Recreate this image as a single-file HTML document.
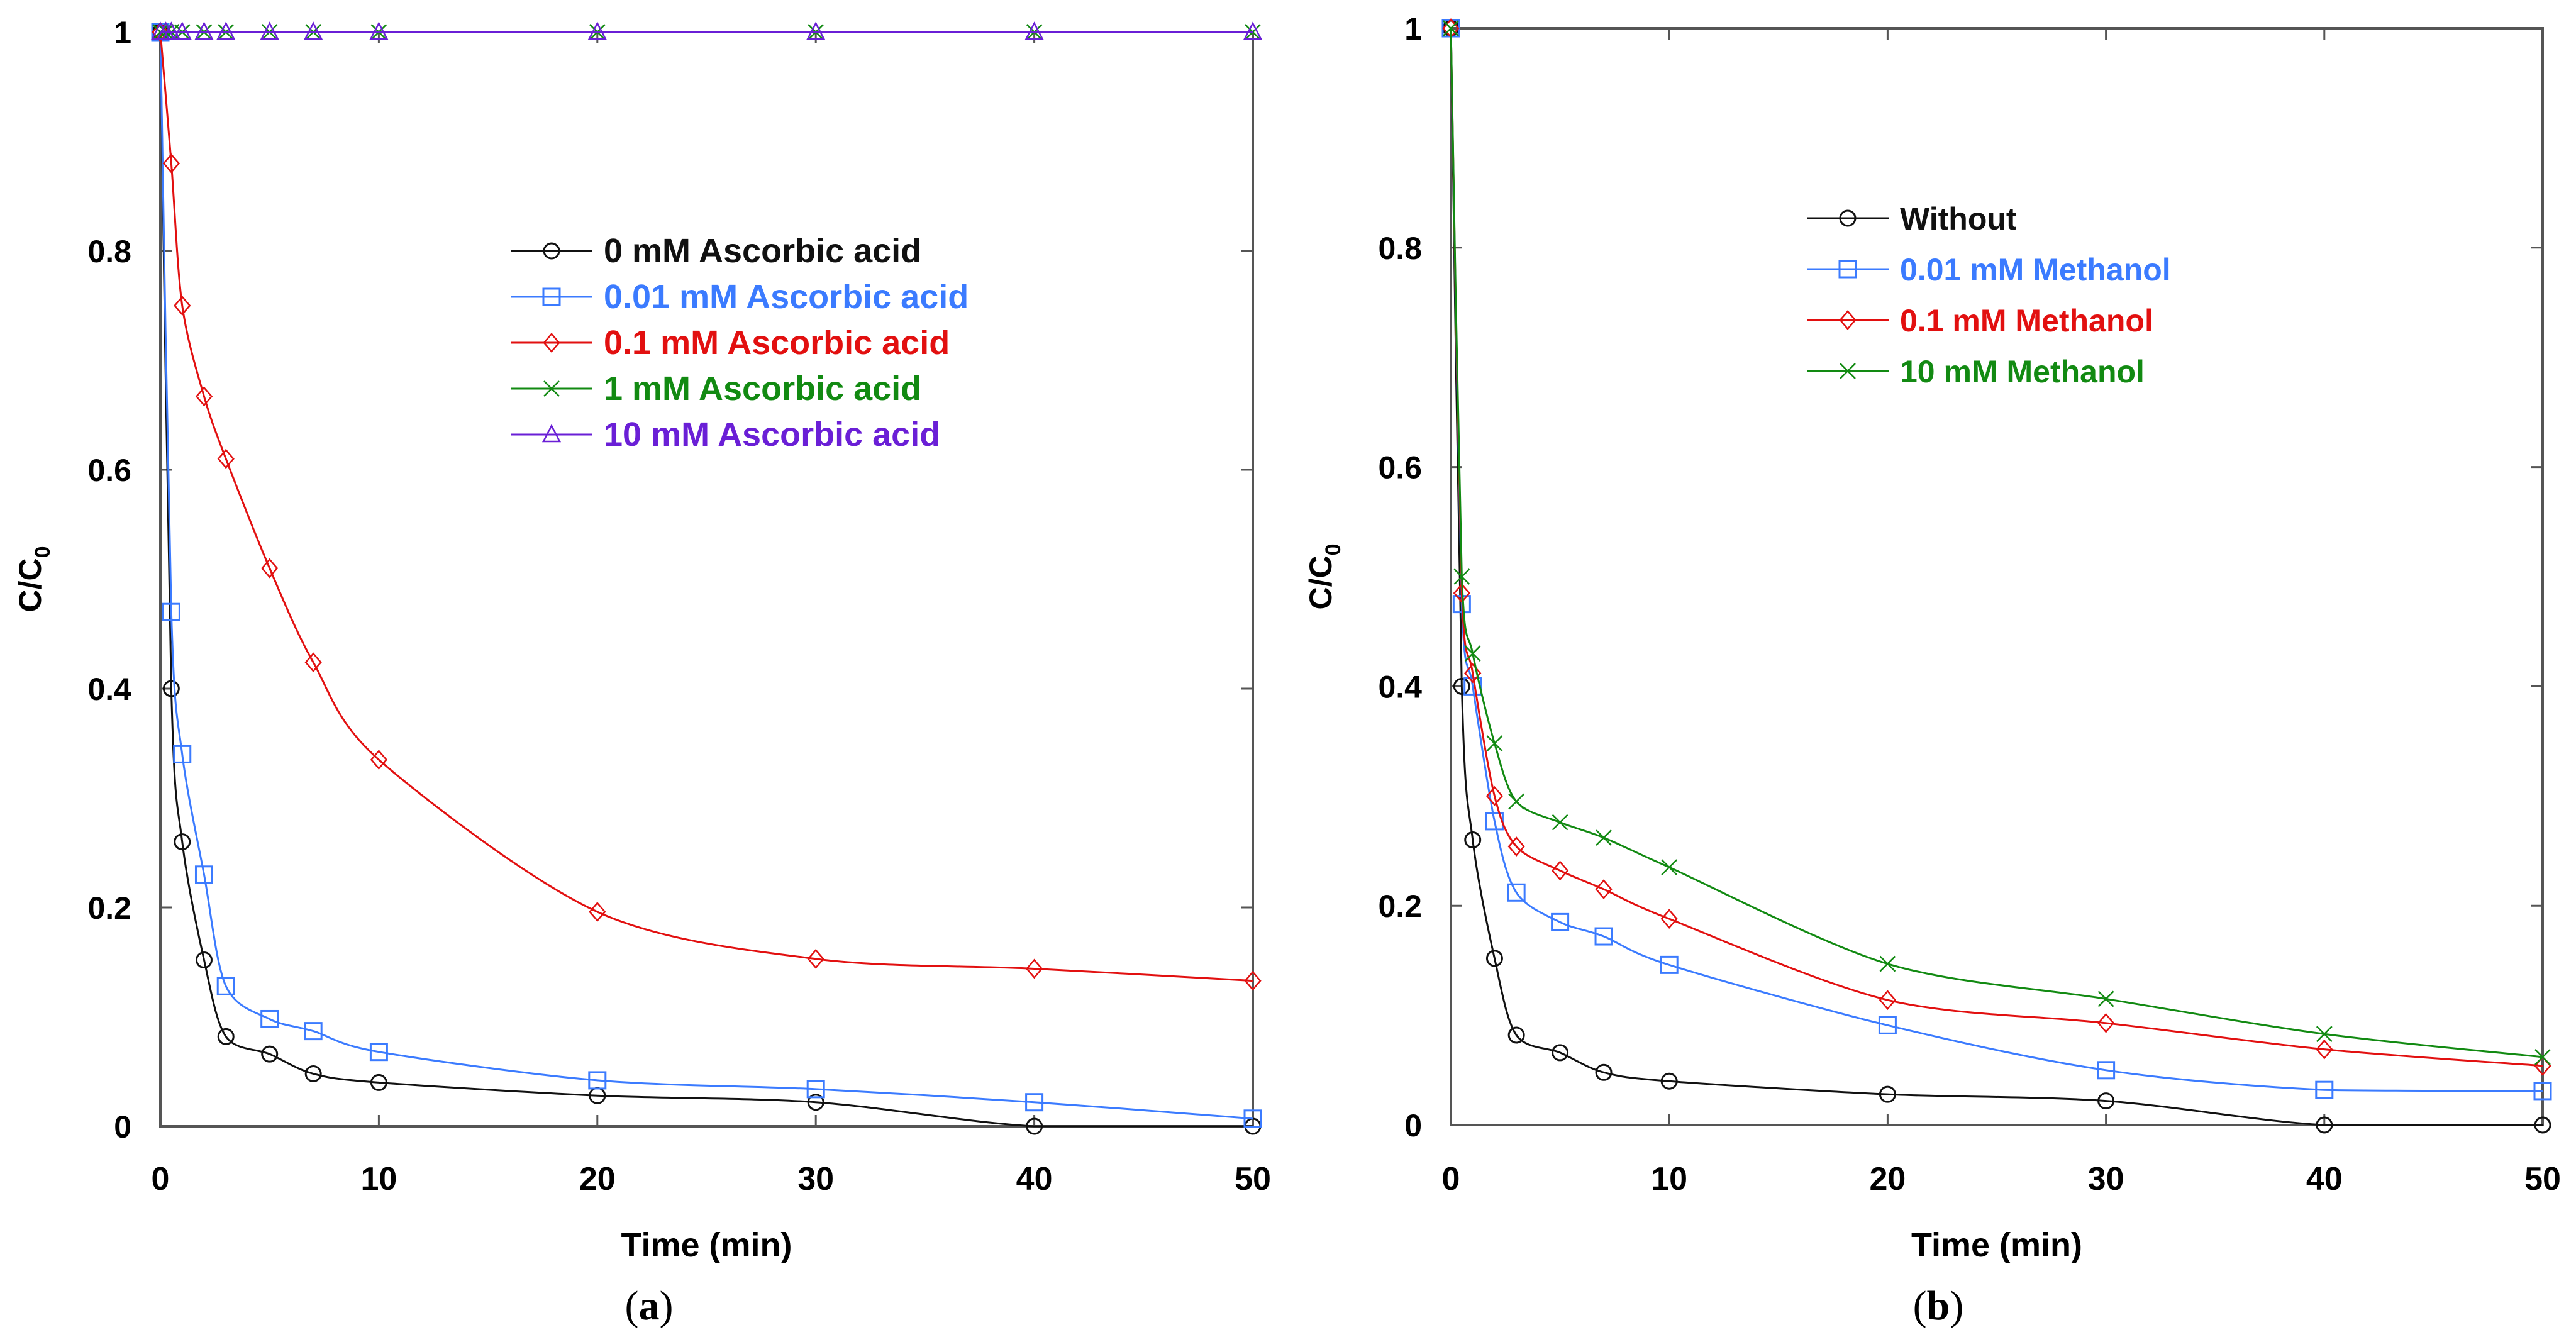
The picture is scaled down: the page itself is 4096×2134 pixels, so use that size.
<!DOCTYPE html>
<html><head><meta charset="utf-8"><style>
html,body{margin:0;padding:0;background:#fff;}
svg{display:block;}
text{font-family:"Liberation Sans",Arial,sans-serif;font-weight:bold;}
</style></head><body>
<svg id="fig" width="4096" height="2134" viewBox="0 0 4096 2134" xmlns="http://www.w3.org/2000/svg"></svg>
<script>
// ---- shared data ----
const xTicks=[0,10,20,30,40,50];
const yTicks=[0,0.2,0.4,0.6,0.8,1];
const yTickLabels=["0","0.2","0.4","0.6","0.8","1"];
const timesMain=[0,0.5,1,2,3,5,7,10,20,30,40,50];
const timesFlat=[0,0.25,0.5,1,2,3,5,7,10,20,30,40,50];
// panel a
const aBlack=[1,0.4,0.26,0.152,0.082,0.066,0.048,0.04,0.028,0.022,0,0];
const aBlue=[1,0.47,0.34,0.23,0.128,0.098,0.087,0.068,0.042,0.034,0.022,0.007];
const aRed=[1,0.88,0.75,0.667,0.61,0.51,0.424,0.335,0.196,0.153,0.144,0.133];
const aGreen=[1,1,1,1,1,1,1,1,1,1,1,1,1];
const aPurple=[1,1,1,1,1,1,1,1,1,1,1,1,1];
const aLabels=["0 mM Ascorbic acid","0.01 mM Ascorbic acid","0.1 mM Ascorbic acid","1 mM Ascorbic acid","10 mM Ascorbic acid"];
// panel b
const bBlack=[1,0.4,0.26,0.152,0.082,0.066,0.048,0.04,0.028,0.022,0,0];
const bBlue=[1,0.475,0.4,0.277,0.212,0.185,0.172,0.146,0.091,0.05,0.032,0.031];
const bRed=[1,0.485,0.412,0.3,0.254,0.232,0.215,0.188,0.114,0.093,0.069,0.054];
const bGreen=[1,0.5,0.43,0.348,0.295,0.276,0.262,0.235,0.147,0.115,0.083,0.062];
const bLabels=["Without","0.01 mM Methanol","0.1 mM Methanol","10 mM Methanol"];

const NS="http://www.w3.org/2000/svg";
const svg=document.getElementById('fig');
function mk(tag,attrs,parent){const e=document.createElementNS(NS,tag);for(const k in attrs)e.setAttribute(k,attrs[k]);(parent||svg).appendChild(e);return e;}
const COL={black:"#111",blue:"#3b7bff",red:"#e21010",green:"#128a12",purple:"#6a1fd6"};
function marker(g,type,x,y,c){
  let e;
  if(type==='circle')e=mk('circle',{cx:x,cy:y,r:12,fill:'none',stroke:c,'stroke-width':3},g);
  else if(type==='square')e=mk('rect',{x:x-13,y:y-13,width:26,height:26,fill:'none',stroke:c,'stroke-width':3},g);
  else if(type==='diamond')e=mk('path',{d:`M${x} ${y-14}L${x+12} ${y}L${x} ${y+14}L${x-12} ${y}Z`,fill:'none',stroke:c,'stroke-width':2.5},g);
  else if(type==='x')e=mk('path',{d:`M${x-12} ${y-12}L${x+12} ${y+12}M${x-12} ${y+12}L${x+12} ${y-12}`,fill:'none',stroke:c,'stroke-width':2.5},g);
  else e=mk('path',{d:`M${x} ${y-14}L${x+13} ${y+11}L${x-13} ${y+11}Z`,fill:'none',stroke:c,'stroke-width':2.5},g);
  
  
}
function smoothPath(pts){
  let d=`M${pts[0][0]},${pts[0][1]}`;
  for(let i=0;i<pts.length-1;i++){
    const p0=pts[Math.max(i-1,0)],p1=pts[i],p2=pts[i+1],p3=pts[Math.min(i+2,pts.length-1)];
    const k=0.15;
    let c1y=p1[1]+(p2[1]-p0[1])*k, c2y=p2[1]-(p3[1]-p1[1])*k;
    const lo=Math.min(p1[1],p2[1]),hi=Math.max(p1[1],p2[1]);
    c1y=Math.min(Math.max(c1y,lo),hi);c2y=Math.min(Math.max(c2y,lo),hi);
    d+=`C${p1[0]+(p2[0]-p0[0])*k},${c1y} ${p2[0]-(p3[0]-p1[0])*k},${c2y} ${p2[0]},${p2[1]}`;
  }
  return d;
}
function panel(id,L,R,T,B,series,legend,letter,letterX,legFont){
  const g=mk('g',{});
  
  
  const sx=v=>L+(v/50)*(R-L), sy=v=>B-v*(B-T);
  const fr=mk('rect',{x:L,y:T,width:R-L,height:B-T,fill:'none',stroke:'#555',"stroke-width":4},g);
  
  
  xTicks.forEach(v=>{
    mk('line',{x1:sx(v),x2:sx(v),y1:B,y2:B-18,stroke:'#555','stroke-width':3},g);
    mk('line',{x1:sx(v),x2:sx(v),y1:T,y2:T+18,stroke:'#555','stroke-width':3},g);
    const t=mk('text',{x:sx(v),y:1892,'text-anchor':'middle','font-size':52},g);t.textContent=v;
    
    
  });
  yTicks.forEach((v,i)=>{
    mk('line',{x1:L,x2:L+18,y1:sy(v),y2:sy(v),stroke:'#555','stroke-width':3},g);
    mk('line',{x1:R,x2:R-18,y1:sy(v),y2:sy(v),stroke:'#555','stroke-width':3},g);
    const t=mk('text',{x:L-46,y:sy(v)+18,'text-anchor':'end','font-size':50},g);t.textContent=yTickLabels[i];
    
    
  });
  const xt=mk('text',{x:(L+R)/2,y:1998,'text-anchor':'middle','font-size':54},g);xt.textContent='Time (min)';
  
  
  const yt=mk('text',{transform:`translate(${L-190},${(T+B)/2}) rotate(-90)`,'text-anchor':'middle','font-size':50},g);
  yt.innerHTML='C/C<tspan font-size="34" dy="14">0</tspan>';
  
  
  const lt=mk('text',{x:letterX,y:2098,'text-anchor':'middle','font-size':66,'style':'font-family:"Liberation Serif",serif;font-weight:normal'},g);
  lt.innerHTML='(<tspan font-weight="bold">'+letter+'</tspan>)';
  
  
  series.forEach(s=>{
    const sg=mk('g',{},g);
    
    
    const pts=s.t.map((tv,i)=>[sx(tv),sy(s.v[i])]);
    const pl=mk('path',{d:smoothPath(pts),fill:'none',stroke:s.c,'stroke-width':3,'stroke-linejoin':'round'},sg);
    
    
    pts.forEach(p=>marker(sg,s.m,p[0],p[1],s.c));
  });
  legend.forEach((lg,i)=>{
    const y=lg.y0+i*lg.dy;
    const eg=mk('g',{},g);
    
    
    mk('line',{x1:lg.x,x2:lg.x+130,y1:y,y2:y,stroke:lg.c,'stroke-width':3},eg);
    marker(eg,lg.m,lg.x+65,y,lg.c);
    const t=mk('text',{x:lg.x+148,y:y+18,'font-size':legFont,fill:lg.c},eg);t.textContent=lg.label;
  });
}
const aSeries=[
 {name:'0mM',t:timesMain,v:aBlack,c:COL.black,m:'circle'},
 {name:'0.01mM',t:timesMain,v:aBlue,c:COL.blue,m:'square'},
 {name:'0.1mM',t:timesMain,v:aRed,c:COL.red,m:'diamond'},
 {name:'1mM',t:timesFlat,v:aGreen,c:COL.green,m:'x'},
 {name:'10mM',t:timesFlat,v:aPurple,c:COL.purple,m:'tri'}];
const aCols=[COL.black,COL.blue,COL.red,COL.green,COL.purple],aM=['circle','square','diamond','x','tri'];
panel('panel-a',255,1992,51,1791,aSeries,aLabels.map((l,i)=>({label:l,c:aCols[i],m:aM[i],x:812,y0:399,dy:73})),'a',1032,54);
const bSeries=[
 {name:'without',t:timesMain,v:bBlack,c:COL.black,m:'circle'},
 {name:'0.01mM',t:timesMain,v:bBlue,c:COL.blue,m:'square'},
 {name:'0.1mM',t:timesMain,v:bRed,c:COL.red,m:'diamond'},
 {name:'10mM',t:timesMain,v:bGreen,c:COL.green,m:'x'}];
const bCols=[COL.black,COL.blue,COL.red,COL.green],bM=['circle','square','diamond','x'];
panel('panel-b',2307,4043,45,1789,bSeries,bLabels.map((l,i)=>({label:l,c:bCols[i],m:bM[i],x:2873,y0:347,dy:81})),'b',3082,50);
</script>
</body></html>
